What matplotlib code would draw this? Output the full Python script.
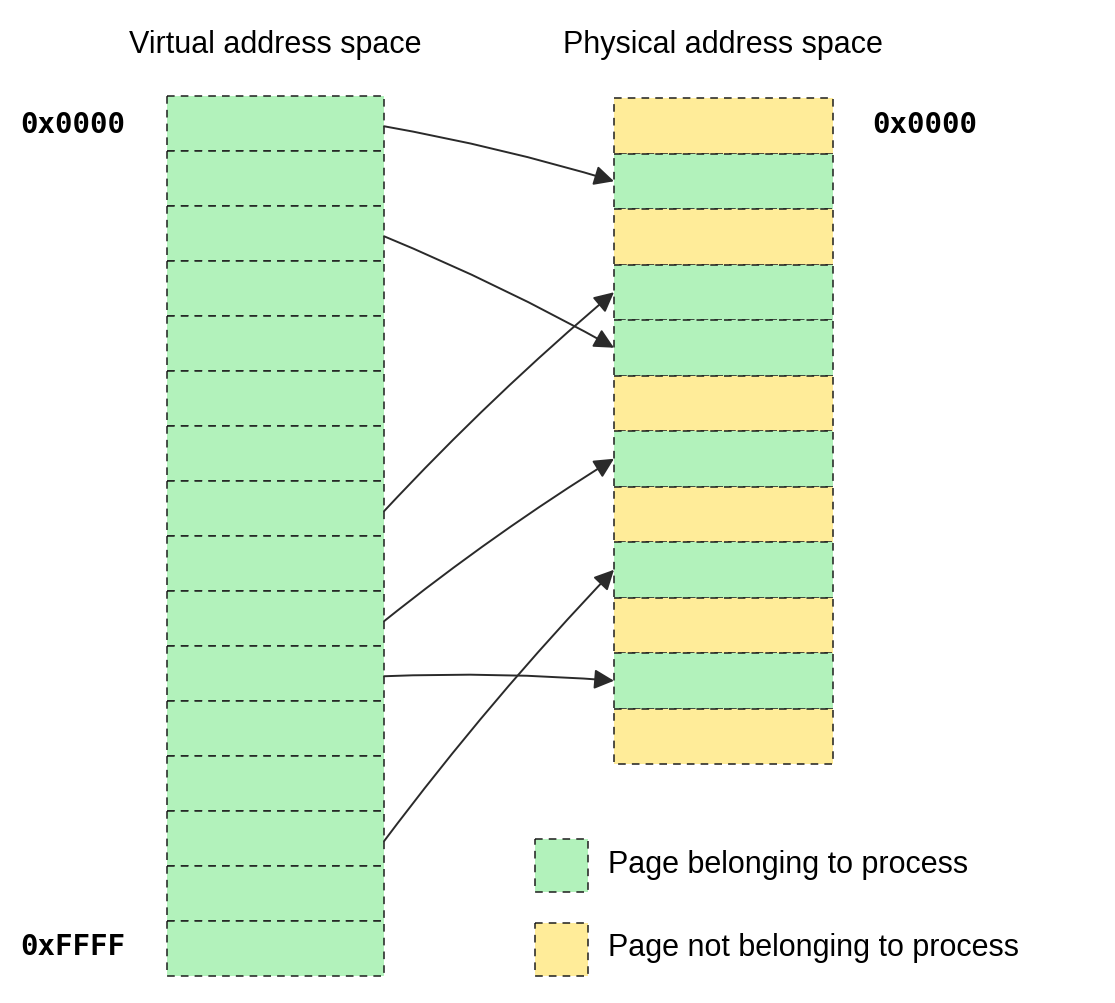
import matplotlib
matplotlib.use("Agg")
import matplotlib.pyplot as plt
from matplotlib.patches import Rectangle, FancyArrowPatch

virtual_pages = 16
physical_pages = ["other", "proc", "other", "proc", "proc", "other",
                  "proc", "other", "proc", "other", "proc", "other"]
mapping = [(0, 1), (2, 4), (7, 3), (9, 6), (10, 10), (13, 8)]
titles = ["Virtual address space", "Physical address space"]
legend_labels = ["Page belonging to process", "Page not belonging to process"]

GREEN, YELLOW = "#b2f2bb", "#ffec99"
fig = plt.figure(figsize=(11.15, 10.04), dpi=100)
ax = fig.add_axes([0, 0, 1, 1])
ax.set_xlim(0, 1115); ax.set_ylim(1004, 0); ax.axis("off")

vx, vw, vy0, vh = 167, 217, 97, 55
px, pw, py0, ph = 614, 219, 99, 55.5

def box(x, y, w, h, c):
    ax.add_patch(Rectangle((x, y), w, h, facecolor=c, edgecolor="#1e1e1e",
                           linestyle=(0, (5, 4)), linewidth=1.1))

for i in range(virtual_pages):
    box(vx, vy0 + i * vh, vw, vh, GREEN)
for i, k in enumerate(physical_pages):
    box(px, py0 + i * ph, pw, ph, GREEN if k == "proc" else YELLOW)

for v, p in mapping:
    y1 = vy0 + (v + 0.55) * vh
    y2 = py0 + (p + 0.5) * ph
    ax.add_patch(FancyArrowPatch((vx + vw, y1), (px, y2), arrowstyle="-|>",
                                 mutation_scale=30, color="#2a2a2a", lw=1.4,
                                 shrinkA=0, shrinkB=0,
                                 connectionstyle="arc3,rad=-0.03"))

tf = dict(fontsize=22, ha="center", va="center", family="Liberation Sans")
ax.text(275, 45, titles[0], **tf)
ax.text(723, 45, titles[1], **tf)
mono = dict(fontsize=21, va="center", family="DejaVu Sans Mono", fontweight="semibold")
ax.text(20, 125, "0x0000", ha="left", **mono)
ax.text(20, 947, "0xFFFF", ha="left", **mono)
ax.text(872, 125, "0x0000", ha="left", **mono)

box(535, 840, 53, 53, GREEN)
box(535, 924, 53, 53, YELLOW)
ax.text(608, 865, legend_labels[0], fontsize=22, va="center", family="Liberation Sans")
ax.text(608, 948, legend_labels[1], fontsize=22, va="center", family="Liberation Sans")

fig.savefig("out.png", dpi=100, facecolor="white")
